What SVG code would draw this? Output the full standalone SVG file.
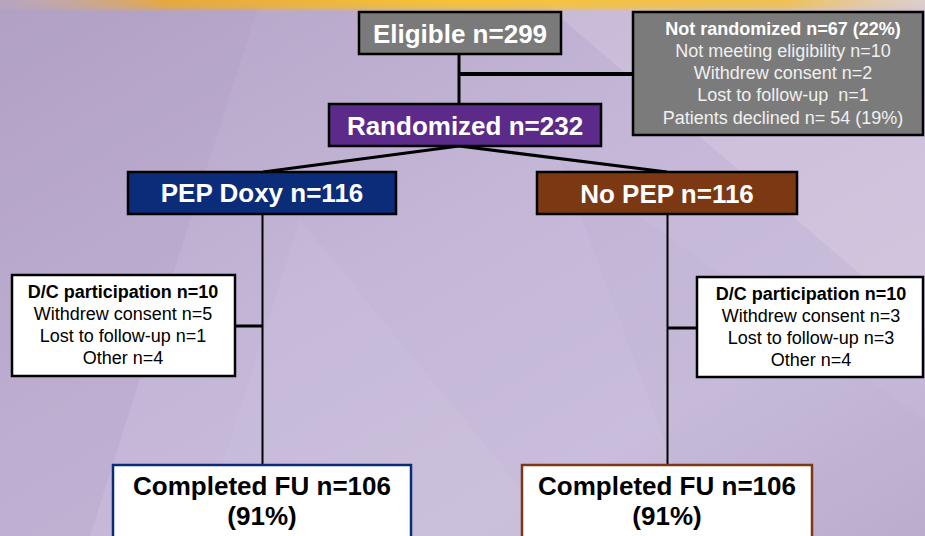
<svg xmlns="http://www.w3.org/2000/svg" width="925" height="536" viewBox="0 0 925 536">
<defs>
<linearGradient id="bg" x1="0" y1="0" x2="1" y2="1">
<stop offset="0" stop-color="#b3a3c6"/>
<stop offset="0.45" stop-color="#c4b6d7"/>
<stop offset="0.75" stop-color="#c9bddb"/>
<stop offset="1" stop-color="#bdaecf"/>
</linearGradient>
<linearGradient id="band" x1="0" y1="0" x2="1" y2="0">
<stop offset="0" stop-color="#c8b0b0" stop-opacity="0.3"/>
<stop offset="0.18" stop-color="#e8a838"/>
<stop offset="0.5" stop-color="#f8c430"/>
<stop offset="0.85" stop-color="#f0c050"/>
<stop offset="1" stop-color="#e8d8c0" stop-opacity="0.6"/>
</linearGradient>
<linearGradient id="fade" x1="0" y1="0" x2="0" y2="1">
<stop offset="0" stop-color="#fff" stop-opacity="1"/>
<stop offset="0.6" stop-color="#fff" stop-opacity="0.8"/>
<stop offset="1" stop-color="#fff" stop-opacity="0"/>
</linearGradient>
<mask id="bandmask"><rect x="0" y="0" width="925" height="12" fill="url(#fade)"/></mask>
</defs>
<style>
.hd{font-family:"Liberation Sans",Arial,sans-serif;font-weight:bold;font-size:26px;text-anchor:middle;fill:#fff}
.cf{font-family:"Liberation Sans",Arial,sans-serif;font-weight:bold;font-size:26px;text-anchor:middle;fill:#000}
.sm{font-family:"Liberation Sans",Arial,sans-serif;font-size:18px;text-anchor:middle}
.b{font-weight:bold}
.ln{stroke:#000;fill:none}
.box{stroke:#000;stroke-width:2.5}
</style>
<rect width="925" height="536" fill="url(#bg)"/>
<polygon points="0,0 260,0 90,536 0,536" fill="#a898bc" opacity="0.2"/>
<polygon points="540,0 925,0 925,330" fill="#e6dce8" opacity="0.25"/>
<polygon points="300,220 560,536 200,536" fill="#ffffff" opacity="0.05"/>
<polygon points="560,160 925,420 925,536 700,536" fill="#a898bc" opacity="0.08"/>
<rect x="0" y="0" width="925" height="12" fill="url(#band)" mask="url(#bandmask)"/>
<g id="connectors">
<line class="ln" x1="459" y1="54" x2="459" y2="104" stroke-width="3"/>
<line class="ln" x1="459" y1="74" x2="633" y2="74" stroke-width="4"/>
<line class="ln" x1="459" y1="146" x2="263" y2="172" stroke-width="3"/>
<line class="ln" x1="459" y1="146" x2="667" y2="172" stroke-width="3"/>
<line class="ln" x1="262.5" y1="214" x2="262.5" y2="465" stroke-width="2"/>
<line class="ln" x1="667.5" y1="214" x2="667.5" y2="465" stroke-width="2"/>
<line class="ln" x1="235" y1="326" x2="262" y2="326" stroke-width="3"/>
<line class="ln" x1="668" y1="328" x2="697" y2="328" stroke-width="3"/>
</g>
<g id="eligible">
<rect class="box" x="359" y="12" width="202" height="42" fill="#7a7a7a"/>
<text class="hd" x="460" y="43">Eligible n=299</text>
</g>
<g id="not-randomized">
<rect class="box" x="633" y="12" width="290" height="123" fill="#7b7b7b"/>
<text class="sm b" x="783" y="35" fill="#fff">Not randomized n=67 (22%)</text>
<text class="sm" x="783" y="57" fill="#f0f0f0">Not meeting eligibility n=10</text>
<text class="sm" x="783" y="79" fill="#f0f0f0">Withdrew consent n=2</text>
<text class="sm" x="783" y="101" fill="#f0f0f0" xml:space="preserve">Lost to follow-up  n=1</text>
<text class="sm" x="783" y="124" fill="#f0f0f0">Patients declined n= 54 (19%)</text>
</g>
<g id="randomized">
<rect class="box" x="329" y="104" width="272" height="42" fill="#5c2a88"/>
<text class="hd" x="465" y="135">Randomized n=232</text>
</g>
<g id="pep-doxy">
<rect class="box" x="128" y="172" width="268" height="42" fill="#0b2c78"/>
<text class="hd" x="262" y="202">PEP Doxy n=116</text>
</g>
<g id="no-pep">
<rect class="box" x="537" y="172" width="260" height="42" fill="#7b3812"/>
<text class="hd" x="667" y="203">No PEP n=116</text>
</g>
<g id="dc-left">
<rect class="box" x="12" y="275" width="223" height="101" fill="#fff"/>
<text class="sm b" x="123" y="298" fill="#000">D/C participation n=10</text>
<text class="sm" x="123" y="320" fill="#000">Withdrew consent n=5</text>
<text class="sm" x="123" y="342" fill="#000">Lost to follow-up n=1</text>
<text class="sm" x="123" y="364" fill="#000">Other n=4</text>
</g>
<g id="dc-right">
<rect class="box" x="697" y="277" width="226" height="100" fill="#fff"/>
<text class="sm b" x="811" y="300" fill="#000">D/C participation n=10</text>
<text class="sm" x="811" y="322" fill="#000">Withdrew consent n=3</text>
<text class="sm" x="811" y="344" fill="#000">Lost to follow-up n=3</text>
<text class="sm" x="811" y="366" fill="#000">Other n=4</text>
</g>
<g id="completed-left">
<rect x="113" y="465" width="298" height="80" fill="#fff" stroke="#0b2c78" stroke-width="2.5"/>
<text class="cf" x="262" y="495">Completed FU n=106</text>
<text class="cf" x="262" y="525">(91%)</text>
</g>
<g id="completed-right">
<rect x="522" y="465" width="290" height="80" fill="#fff" stroke="#7b3812" stroke-width="2.5"/>
<text class="cf" x="667" y="495">Completed FU n=106</text>
<text class="cf" x="667" y="525">(91%)</text>
</g>
</svg>
